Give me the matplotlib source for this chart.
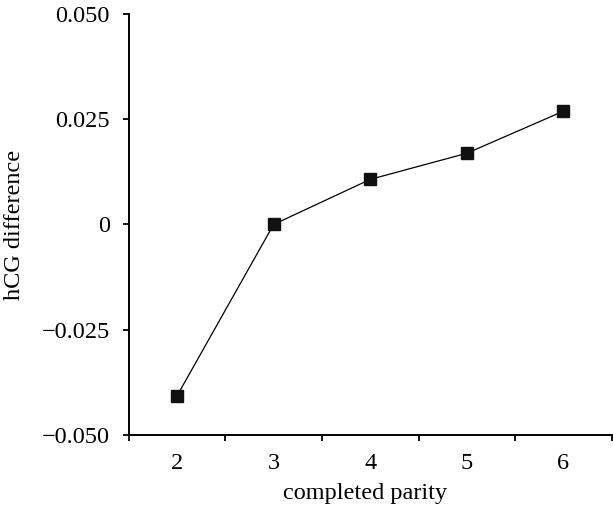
import numpy as np
import matplotlib.pyplot as plt
from matplotlib.ticker import FixedLocator

parity = [2, 3, 4, 5, 6]
hcg_diff = [-0.0407, 0.0, 0.0107, 0.0169, 0.0269]
y_ticks = [-0.050, -0.025, 0.0, 0.025, 0.050]
y_tick_labels = ['\u22120.050', '\u22120.025', '0', '0.025', '0.050']

plt.rcParams['font.family'] = 'serif'
plt.rcParams['font.serif'] = ['Liberation Serif', 'DejaVu Serif']

fig = plt.figure(figsize=(6.13, 5.13), dpi=100)
ax = fig.add_axes([0.21, 0.152, 0.788, 0.821])

ax.plot(parity, hcg_diff, color='black', lw=0.9, marker='s', ms=8,
        mfc='#111111', mec='#111111', zorder=3)

ax.set_xlim(1.5, 6.5)
ax.set_ylim(-0.050, 0.050)

# category-style x axis: labels at the points, tick marks between them
ax.set_xticks(parity)
ax.set_xticklabels([str(p) for p in parity])
ax.xaxis.set_minor_locator(FixedLocator(np.arange(1.5, 7.0, 1.0)))
ax.tick_params(axis='x', which='major', length=0, pad=13, labelsize=17.5)
ax.tick_params(axis='x', which='minor', length=4.5, width=1.3, direction='out')

ax.set_yticks(y_ticks)
ax.set_yticklabels(y_tick_labels)
ax.tick_params(axis='y', length=4.5, width=1.3, direction='out', pad=9, labelsize=17.5)

for side in ['top', 'right']:
    ax.spines[side].set_visible(False)
for side in ['left', 'bottom']:
    ax.spines[side].set_linewidth(1.4)

ax.set_xlabel('completed parity', fontsize=17.5, va='center')
ax.xaxis.set_label_coords(0.49, -0.138)
ax.set_ylabel('hCG difference', fontsize=17.5, va='center')
ax.yaxis.set_label_coords(-0.236, 0.5)

fig.savefig('out.png', dpi=100)
